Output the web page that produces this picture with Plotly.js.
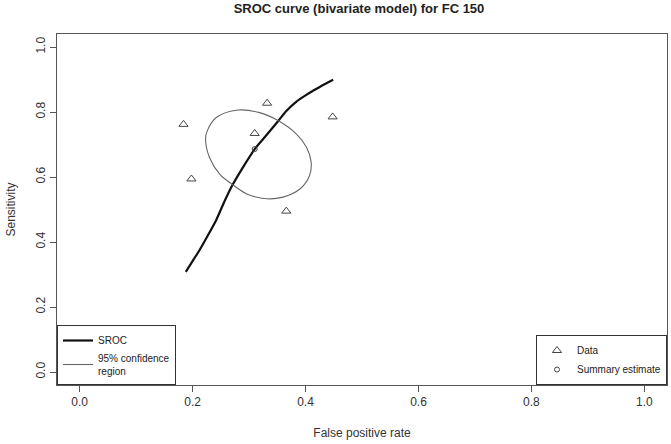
<!DOCTYPE html>
<html>
<head>
<meta charset="utf-8">
<script src="https://cdn.plot.ly/plotly-3.0.1.min.js"></script>
<style>html,body{margin:0;padding:0;background:#fff}#chart{width:671px;height:444px}</style>
</head>
<body>
<div id="chart"></div>
<script>
// Study data (false positive rate, sensitivity)
const dataFpr = [0.184, 0.198, 0.332, 0.310, 0.448, 0.366];
const dataSens = [0.762, 0.594, 0.827, 0.734, 0.785, 0.495];

// Summary estimate
const summaryFpr = [0.310];
const summarySens = [0.686];

// SROC curve
const srocFpr = [0.188, 0.200, 0.213, 0.227, 0.242, 0.256, 0.269, 0.290, 0.310, 0.331, 0.352, 0.366, 0.384, 0.400, 0.414, 0.432, 0.449];
const srocSens = [0.308, 0.341, 0.377, 0.420, 0.468, 0.523, 0.570, 0.632, 0.686, 0.729, 0.773, 0.803, 0.832, 0.851, 0.866, 0.884, 0.899];

// 95% confidence region
const ellFpr = [0.281, 0.242, 0.226, 0.223, 0.230, 0.248, 0.269, 0.296, 0.331, 0.360, 0.390, 0.407, 0.410, 0.402, 0.384, 0.352, 0.319, 0.281];
const ellSens = [0.806, 0.783, 0.742, 0.717, 0.660, 0.609, 0.579, 0.548, 0.533, 0.538, 0.563, 0.604, 0.645, 0.691, 0.732, 0.773, 0.798, 0.806];

const tickVals = [0, 0.2, 0.4, 0.6, 0.8, 1.0];
const tickText = ["0.0", "0.2", "0.4", "0.6", "0.8", "1.0"];

const traces = [
  {x: srocFpr, y: srocSens, mode: 'lines', name: 'SROC', line: {color: '#111', width: 2.2, shape: 'spline', smoothing: 0.6}, legend: 'legend'},
  {x: ellFpr, y: ellSens, mode: 'lines', name: '95% confidence<br>region', line: {color: '#666', width: 1.1, shape: 'spline'}, legend: 'legend'},
  {x: dataFpr, y: dataSens, mode: 'markers', name: 'Data', marker: {symbol: 'triangle-up-open', size: 8, color: '#444', line: {width: 1}}, legend: 'legend2'},
  {x: summaryFpr, y: summarySens, mode: 'markers', name: 'Summary estimate', marker: {symbol: 'circle-open', size: 5, color: '#444', line: {width: 1}}, legend: 'legend2'}
];

const axisCommon = {
  range: [-0.04, 1.04], tickvals: tickVals, ticktext: tickText,
  showgrid: false, zeroline: false, showline: true, mirror: true,
  linecolor: '#555', linewidth: 1, ticks: 'outside', ticklen: 6, tickcolor: '#555',
  tickfont: {size: 12, color: '#333'}
};

const layout = {
  width: 671, height: 444,
  margin: {l: 57, r: 4, t: 34, b: 59},
  paper_bgcolor: '#fff', plot_bgcolor: '#fff',
  font: {family: 'Liberation Sans, Arial, sans-serif', color: '#333'},
  title: {text: '<b>SROC curve (bivariate model) for FC 150</b>', font: {size: 13, color: '#222'}, x: 0.535, xanchor: 'center', y: 0.982, yanchor: 'middle', yref: 'container'},
  xaxis: Object.assign({}, axisCommon, {title: {text: 'False positive rate', font: {size: 12, color: '#333'}, standoff: 20}}),
  yaxis: Object.assign({}, axisCommon, {tickangle: -90, title: {text: 'Sensitivity', font: {size: 12, color: '#333'}, standoff: 16}}),
  showlegend: true,
  legend: {x: 0, y: 0, xanchor: 'left', yanchor: 'bottom', bgcolor: '#fff', bordercolor: '#333', borderwidth: 1, font: {size: 10, color: '#222'}, tracegroupgap: 0, itemwidth: 30},
  legend2: {x: 1, y: 0, xanchor: 'right', yanchor: 'bottom', bgcolor: '#fff', bordercolor: '#333', borderwidth: 1, font: {size: 10, color: '#222'}, tracegroupgap: 0, itemwidth: 30}
};

Plotly.newPlot('chart', traces, layout, {displayModeBar: false, staticPlot: true});
</script>
</body>
</html>
